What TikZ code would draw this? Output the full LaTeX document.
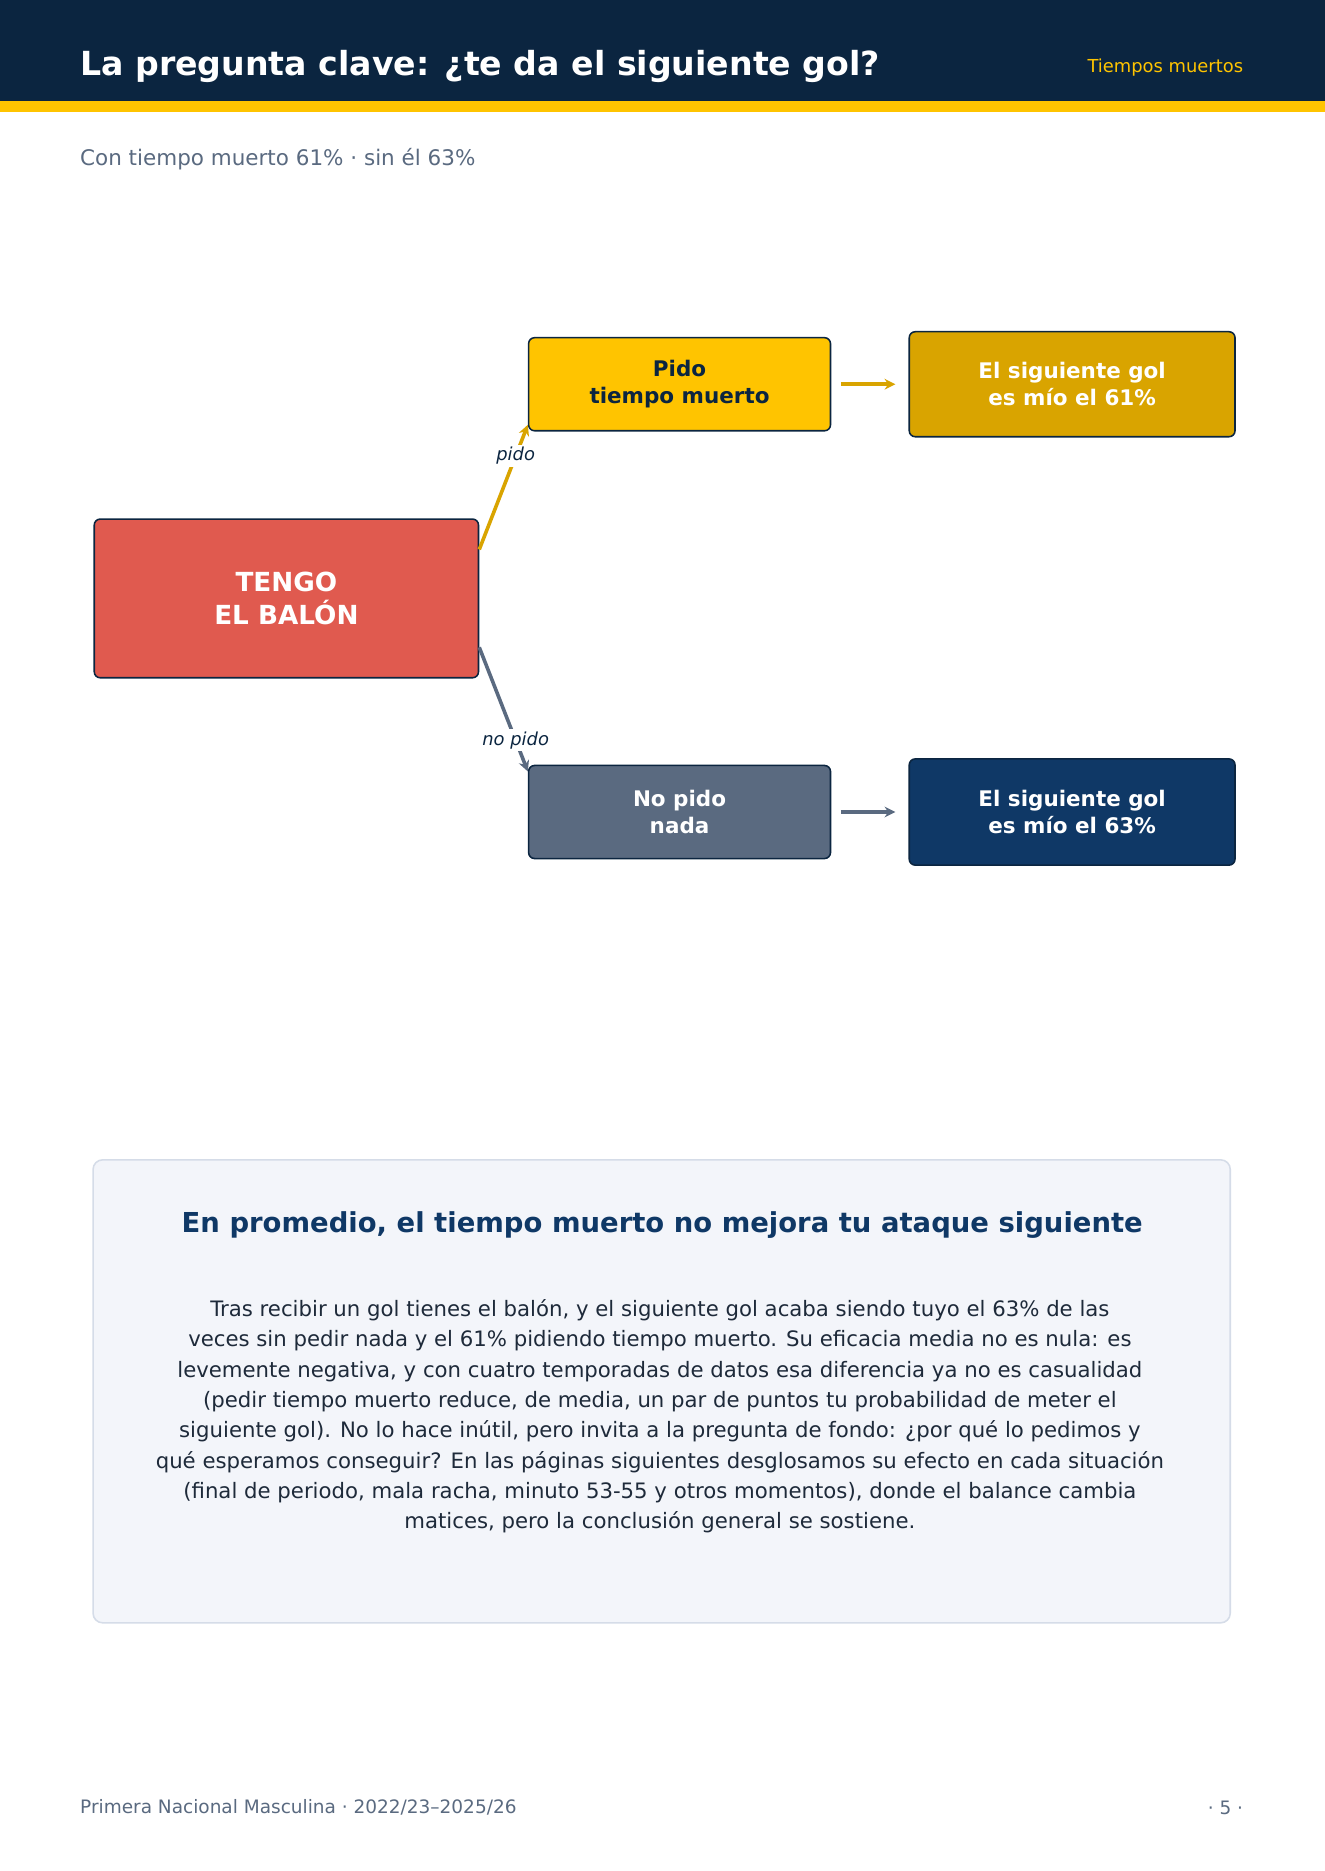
\documentclass[tikz,border=0pt]{standalone}
\usepackage{fontspec}
\setmainfont{DejaVu Sans}
\usetikzlibrary{calc,arrows.meta}
\definecolor{navy}{HTML}{0B2540}
\definecolor{gold}{HTML}{FFC400}
\definecolor{dgold}{HTML}{D9A400}
\definecolor{slate}{HTML}{5A6A80}
\definecolor{red}{HTML}{E05A4F}
\definecolor{blue}{HTML}{0F3866}
\definecolor{panel}{HTML}{F3F5FA}
\definecolor{pborder}{HTML}{D5DCE8}
\definecolor{txt}{HTML}{1E2A3A}
\tikzset{
 box/.style={draw=navy,line width=1.3pt,rounded corners=5pt,align=center,font=\bfseries\fontsize{18}{23}\selectfont,inner sep=0pt},
 arr/.style={line width=3pt,-{Stealth[length=9pt,width=9pt]}},
 lab/.style={fill=white,font=\itshape\fontsize{15}{18}\selectfont,text=navy,inner sep=2pt}
}
\begin{document}
\begin{tikzpicture}[x=1pt,y=-1pt]
\useasboundingbox (0,0) rectangle (1110,1568);
\fill[white] (0,0) rectangle (1110,1568);
\fill[navy] (0,0) rectangle (1110,85);
\fill[gold] (0,85) rectangle (1110,94);
\node[anchor=west,inner sep=0pt,text=white,font=\bfseries\fontsize{27.8}{32}\selectfont] (title) at (67,56) {La pregunta clave: ¿te da el siguiente gol?};
\node[anchor=east,inner sep=0pt,text=gold,font=\fontsize{15}{18}\selectfont] (tag) at (1042,57) {Tiempos muertos};
\node[anchor=west,inner sep=0pt,text=slate,font=\fontsize{18}{21}\selectfont] (sub) at (67,133) {Con tiempo muerto 61\% · sin él 63\%};

\node[box,fill=red,text=white,minimum width=322,minimum height=133,font=\bfseries\fontsize{22}{28}\selectfont] (A) at (240,501.5) {TENGO\\EL BALÓN};
\node[box,fill=gold,text=navy,minimum width=253,minimum height=78] (B) at (569.5,322) {Pido\\tiempo muerto};
\node[box,fill=dgold,text=white,minimum width=273,minimum height=88] (C) at (898.5,322) {El siguiente gol\\es mío el 61\%};
\node[box,fill=slate,text=white,minimum width=253,minimum height=78] (D) at (569.5,680.5) {No pido\\nada};
\node[box,fill=blue,text=white,minimum width=273,minimum height=89] (E) at (898.5,680.5) {El siguiente gol\\es mío el 63\%};

\draw[arr,draw=dgold] ($(A.east)+(0,-41)$) -- node[lab,pos=0.75]{pido} ($(B.west)+(0,34)$);
\draw[arr,draw=slate] ($(A.east)+(0,41)$) -- node[lab,pos=0.75]{no pido} ($(D.west)+(0,-34)$);
\draw[arr,draw=dgold] ($(B.east)+(8,0)$) -- ($(C.west)+(-11,0)$);
\draw[arr,draw=slate] ($(D.east)+(8,0)$) -- ($(E.west)+(-11,0)$);

\draw[draw=pborder,fill=panel,line width=1.3pt,rounded corners=8pt] (78,972) rectangle (1031,1360);
\node[text=blue,font=\bfseries\fontsize{23}{27}\selectfont] (h) at (555,1027) {En promedio, el tiempo muerto no mejora tu ataque siguiente};
\node[text=txt,align=center,font=\fontsize{17.8}{25.4}\selectfont] (p) at (553,1187) {Tras recibir un gol tienes el balón, y el siguiente gol acaba siendo tuyo el 63\% de las\\
veces sin pedir nada y el 61\% pidiendo tiempo muerto. Su eficacia media no es nula: es\\
levemente negativa, y con cuatro temporadas de datos esa diferencia ya no es casualidad\\
(pedir tiempo muerto reduce, de media, un par de puntos tu probabilidad de meter el\\
siguiente gol). No lo hace inútil, pero invita a la pregunta de fondo: ¿por qué lo pedimos y\\
qué esperamos conseguir? En las páginas siguientes desglosamos su efecto en cada situación\\
(final de periodo, mala racha, minuto 53-55 y otros momentos), donde el balance cambia\\
matices, pero la conclusión general se sostiene.};

\node[anchor=west,inner sep=0pt,text=slate,font=\fontsize{15.5}{18}\selectfont] (f1) at (67,1515) {Primera Nacional Masculina · 2022/23–2025/26};
\node[anchor=east,inner sep=0pt,text=slate,font=\fontsize{15.5}{18}\selectfont] (f2) at (1042,1515) {· 5 ·};
\end{tikzpicture}
\end{document}
